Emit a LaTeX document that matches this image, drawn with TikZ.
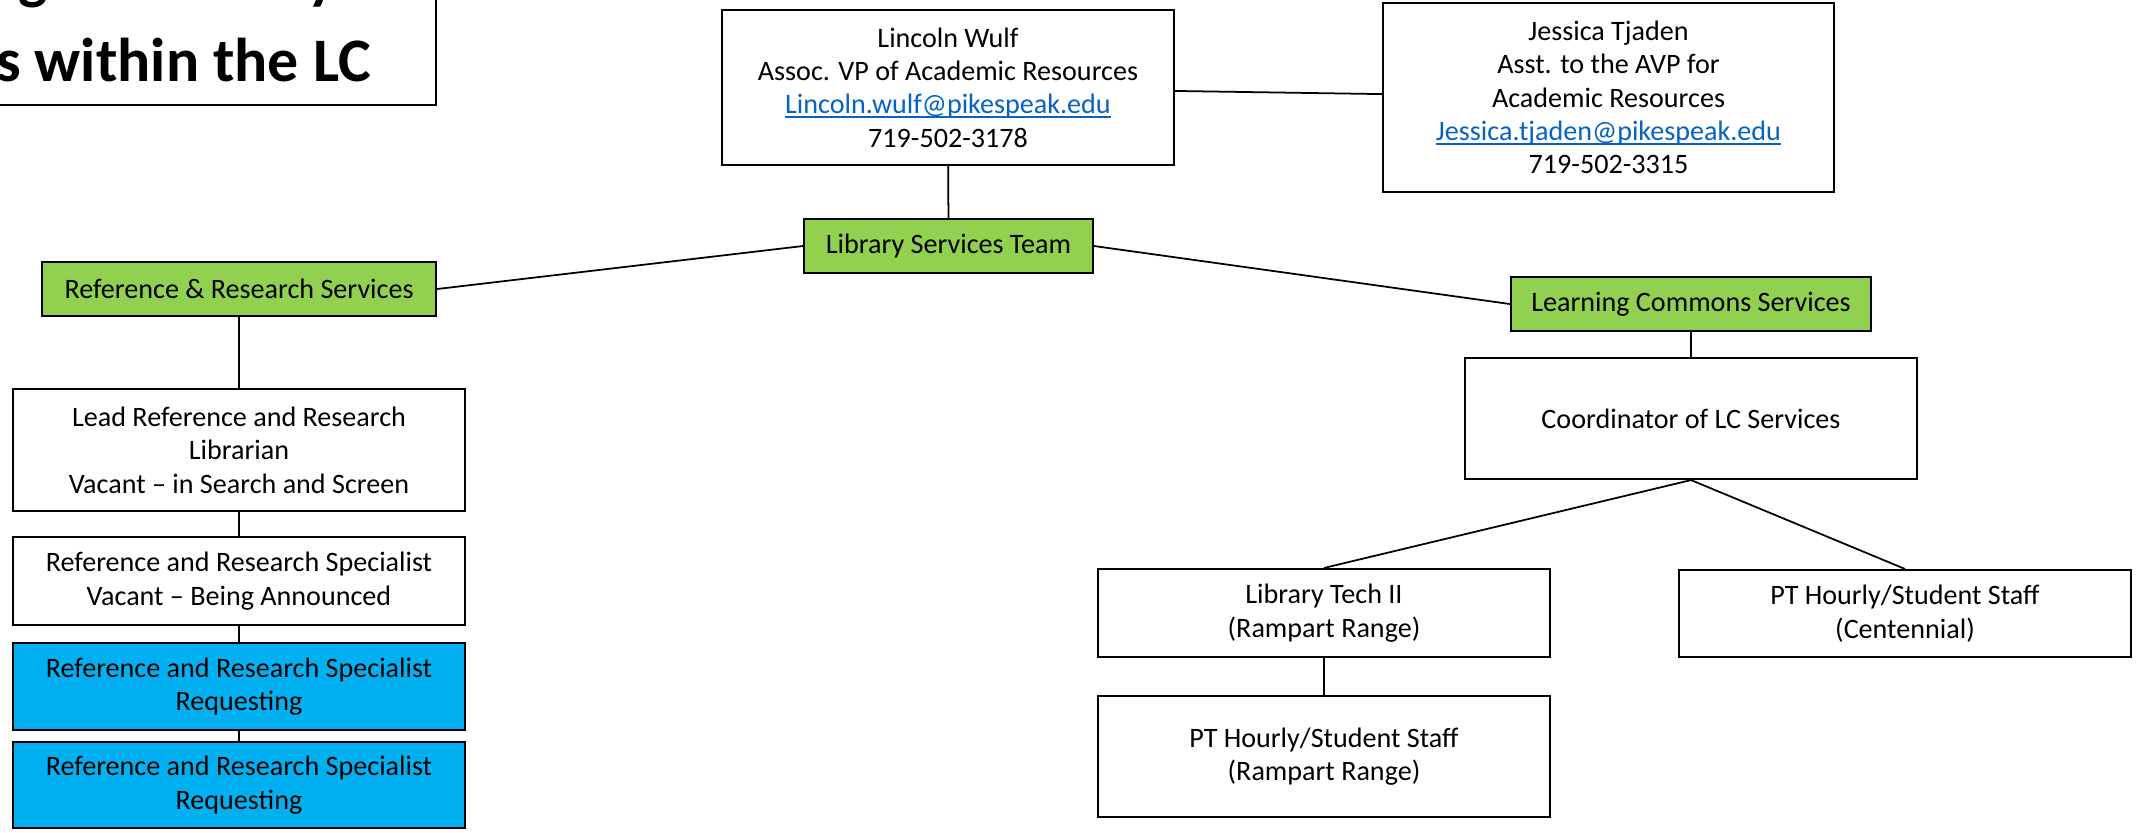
\documentclass[tikz,border=0pt]{standalone}
\usepackage{fontspec}
\setmainfont{Carlito}
\usepackage{tikz}
\definecolor{teamgreen}{HTML}{92D050}
\definecolor{askblue}{HTML}{00B0F0}
\definecolor{linkblue}{HTML}{0563C1}
\newcommand{\maillink}[1]{\textcolor{linkblue}{\setbox0\hbox{#1}\rlap{\rule[-0.14em]{\wd0}{0.06em}}\box0}}

\begin{document}
\begin{tikzpicture}[x=0.1mm,y=-0.1mm]
\tikzstyle{post}=[draw,line width=0.6pt,fill=white,align=center,inner sep=0pt,font=\fontsize{8}{9.5}\selectfont]
\tikzstyle{team}=[post,fill=teamgreen]
\tikzstyle{asked}=[post,fill=askblue]
\tikzstyle{link}=[line width=0.5pt]
\useasboundingbox (0,0) rectangle (2139,832);
\clip (0,0) rectangle (2139,832);
\node[post,font=\fontsize{17.6}{23.9}\selectfont\bfseries,minimum width=61.8mm,minimum height=17.3mm] (title) at (127,18.5) {Assigned Library\\Roles within the LC};
\node[post,minimum width=45.2mm,minimum height=15.5mm] (avp) at (948,87.5) {Lincoln Wulf\\Assoc. VP of Academic Resources\\\maillink{Lincoln.wulf@pikespeak.edu}\\719-502-3178};
\node[post,minimum width=45.1mm,minimum height=18.9mm] (asst) at (1608.5,97.5) {Jessica Tjaden\\Asst. to the AVP for\\Academic Resources\\\maillink{Jessica.tjaden@pikespeak.edu}\\719-502-3315};
\node[team,minimum width=28.9mm,minimum height=5.4mm] (lst) at (948.5,246) {Library Services Team};
\node[team,minimum width=39.4mm,minimum height=5.4mm] (rrs) at (239,289) {Reference \& Research Services};
\node[team,minimum width=36mm,minimum height=5.4mm] (lcs) at (1691,304) {Learning Commons Services};
\node[post,minimum width=45.2mm,minimum height=12.2mm] (lead) at (239,450) {Lead Reference and Research\\Librarian\\Vacant -- in Search and Screen};
\node[post,minimum width=45.2mm,minimum height=8.8mm] (spec1) at (239,581) {Reference and Research Specialist\\Vacant -- Being Announced};
\node[asked,minimum width=45.2mm,minimum height=8.7mm] (spec2) at (239,686.5) {Reference and Research Specialist\\Requesting};
\node[asked,minimum width=45.2mm,minimum height=8.6mm] (spec3) at (239,785) {Reference and Research Specialist\\Requesting};
\node[post,minimum width=45.2mm,minimum height=12.1mm] (coord) at (1691,418.5) {Coordinator of LC Services};
\node[post,minimum width=45.2mm,minimum height=8.8mm] (tech) at (1324,613) {Library Tech II\\(Rampart Range)};
\node[post,minimum width=45.2mm,minimum height=8.7mm] (ptc) at (1905,613.5) {PT Hourly/Student Staff\\(Centennial)};
\node[post,minimum width=45.2mm,minimum height=12.1mm] (ptr) at (1324,756.5) {PT Hourly/Student Staff\\(Rampart Range)};
\draw[link] (avp) -- (asst);
\draw[link] (avp) -- (lst);
\draw[link] (lst.west) -- (rrs.east);
\draw[link] (lst.east) -- (lcs.west);
\draw[link] (rrs) -- (lead);
\draw[link] (lead) -- (spec1);
\draw[link] (spec1) -- (spec2);
\draw[link] (spec2) -- (spec3);
\draw[link] (lcs) -- (coord);
\draw[link] (coord.south) -- (tech.north);
\draw[link] (coord.south) -- (ptc.north);
\draw[link] (tech) -- (ptr);
\end{tikzpicture}
\end{document}
